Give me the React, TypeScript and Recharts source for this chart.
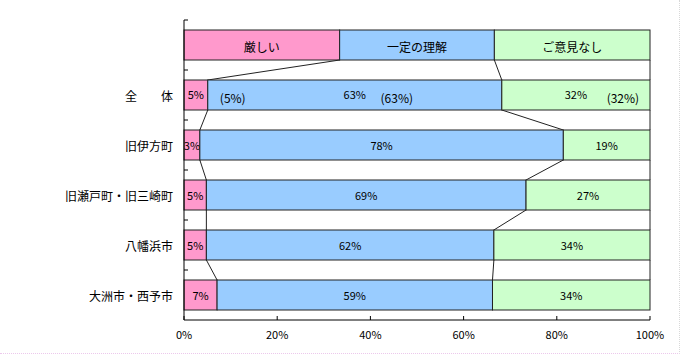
import React from "react";
import { Bar, BarChart, XAxis, YAxis } from "recharts";

const categories = ["", "全　　体", "旧伊方町", "旧瀬戸町・旧三崎町", "八幡浜市", "大洲市・西予市"];
const severe = [33.4, 5.1, 3.4, 4.8, 4.8, 7.1];
const understanding = [33.2, 63.1, 78.0, 68.6, 61.7, 59.1];
const noOpinion = [33.4, 31.8, 18.6, 26.6, 33.5, 33.8];
const headerLabels = ["厳しい", "一定の理解", "ご意見なし"];
const totalExtras = ["(5%)", "(63%)", "(32%)"];
const xTicks = [0, 20, 40, 60, 80, 100];

const SERIES = [severe, understanding, noOpinion];
const COLORS = ["#ff99cc", "#99ccff", "#ccffcc"];
const KEYS = ["severe", "understanding", "noOpinion"];

const WIDTH = 665;
const HEIGHT = 340;
const MARGIN = { top: 12, right: 23, bottom: 8, left: 0 };
const X_AXIS_H = 20;
const PLOT_H = HEIGHT - MARGIN.top - MARGIN.bottom - X_AXIS_H;
const ROW_STEP = PLOT_H / categories.length;
const BAR_SIZE = 30;
const FONT = "'Noto Sans CJK JP', 'Noto Sans', sans-serif";

const data = categories.map((name, i) => ({
  name,
  severe: severe[i],
  understanding: understanding[i],
  noOpinion: noOpinion[i],
}));

function sumUpTo(s: number, i: number) {
  let t = 0;
  for (let j = 0; j <= s; j++) t += SERIES[j][i];
  return t;
}

// rect + connector line down to the same boundary on the next row + labels
function makeShape(s: number) {
  return (props: any) => {
    const { x, y, width, height, index } = props;
    const vals = SERIES[s];
    const k = width / vals[index];
    const x0 = x - (sumUpTo(s, index) - vals[index]) * k;
    const end = x + width;
    const cx = x + width / 2;
    const cy = y + height / 2;
    const last = index === categories.length - 1;
    const nextEnd = last ? end : x0 + sumUpTo(s, index + 1) * k;

    const texts: React.ReactNode[] = [];
    if (index === 0) {
      texts.push(
        <text key="h" x={cx} y={cy + 1} textAnchor="middle" dominantBaseline="central" fontSize={12}>
          {headerLabels[s]}
        </text>
      );
    } else {
      texts.push(
        <text key="v" x={cx} y={index === 1 ? cy - 1 : cy} textAnchor="middle" dominantBaseline="central" fontSize={11}>
          {Math.round(vals[index])}%
        </text>
      );
      if (index === 1 && s === 1) {
        texts.push(
          <text key="e1" x={x + 25} y={cy + 2} textAnchor="middle" dominantBaseline="central" fontSize={12}>
            {totalExtras[0]}
          </text>,
          <text key="e2" x={cx + 42} y={cy + 2} textAnchor="middle" dominantBaseline="central" fontSize={12}>
            {totalExtras[1]}
          </text>
        );
      }
      if (index === 1 && s === 2) {
        texts.push(
          <text key="e3" x={cx + 47} y={cy + 2} textAnchor="middle" dominantBaseline="central" fontSize={12}>
            {totalExtras[2]}
          </text>
        );
      }
    }

    return (
      <g>
        <rect x={x} y={y} width={width} height={height} fill={COLORS[s]} stroke="#222" strokeWidth={1} />
        {!last && (
          <line x1={end} y1={y + height} x2={nextEnd} y2={y + ROW_STEP} stroke="#222" strokeWidth={1} />
        )}
        <g fontFamily={FONT} fill="#000">{texts}</g>
      </g>
    );
  };
}

const YTick = (props: any) => {
  const { x, y, payload } = props;
  const axisX = x + 11;
  return (
    <g>
      <line x1={axisX} y1={y - ROW_STEP / 2} x2={axisX + 4} y2={y - ROW_STEP / 2} stroke="#000" />
      <text x={x} y={y} textAnchor="end" dominantBaseline="central" fontSize={12} fontFamily={FONT} fill="#000">
        {payload.value}
      </text>
    </g>
  );
};

const XTick = (props: any) => {
  const { x, y, payload } = props;
  const axisY = y - 12;
  return (
    <g>
      <line x1={x} y1={axisY} x2={x} y2={axisY - 4} stroke="#000" />
      <text x={x} y={y + 2} textAnchor="middle" dominantBaseline="central" fontSize={11} fontFamily={FONT} fill="#000">
        {payload.value}%
      </text>
    </g>
  );
};

export default function App() {
  return (
    <div style={{ width: WIDTH, height: HEIGHT, background: "#fff" }}>
      <div
        style={{
          position: "absolute",
          left: 0,
          top: 0,
          width: 679,
          height: 353,
          borderRight: "1px dotted #d8d8d8",
          borderBottom: "1px dotted #ecc8ec",
          pointerEvents: "none",
        }}
      />
      <BarChart width={WIDTH} height={HEIGHT} data={data} layout="vertical" margin={MARGIN} barSize={BAR_SIZE}>
        <XAxis
          type="number"
          domain={[0, 100]}
          ticks={xTicks}
          height={X_AXIS_H}
          axisLine={{ stroke: "#000" }}
          tickLine={false}
          tickSize={0}
          tickMargin={12}
          tick={<XTick />}
          interval={0}
        />
        <YAxis
          type="category"
          dataKey="name"
          width={176}
          axisLine={{ stroke: "#000" }}
          tickLine={false}
          tickSize={0}
          tickMargin={11}
          tick={<YTick />}
          interval={0}
        />
        {KEYS.map((key, s) => (
          <Bar
            key={key}
            dataKey={key}
            stackId="a"
            fill={COLORS[s]}
            shape={makeShape(s)}
            isAnimationActive={false}
          />
        ))}
      </BarChart>
    </div>
  );
}
